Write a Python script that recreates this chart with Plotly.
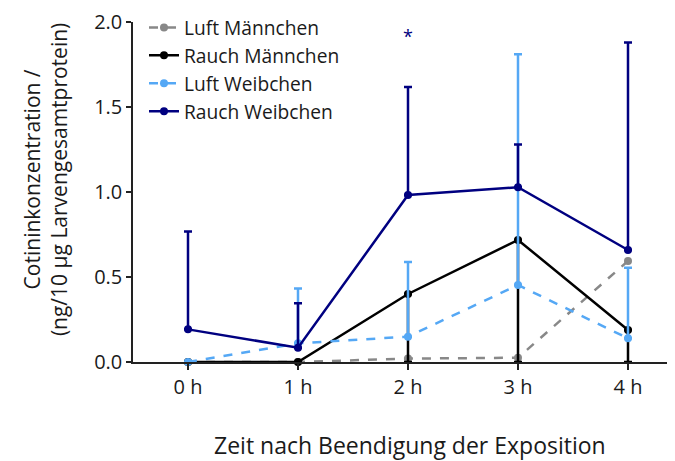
import plotly.graph_objects as go

# ── Data ──────────────────────────────────────────────────────
hours = [0, 1, 2, 3, 4]
hour_labels = ["0 h", "1 h", "2 h", "3 h", "4 h"]

luft_m = [0.0, 0.0, 0.02, 0.025, 0.594]

rauch_m = [0.0, 0.0, 0.40, 0.718, 0.188]
rauch_m_sd = [0.0, 0.0, 0.40, 0.718, 0.188]      # only lower bars visible

luft_w = [0.0, 0.11, 0.149, 0.453, 0.139]
luft_w_sd = [0.0, 0.323, 0.439, 1.357, 0.416]

rauch_w = [0.192, 0.084, 0.982, 1.028, 0.659]
rauch_w_sd = [0.575, 0.261, 0.636, 0.252, 1.221]

FONT = "Open Sans, Noto Sans, sans-serif"
GREY = "#888888"
BLACK = "#000000"
LIGHT = "#55a8f5"
NAVY = "#000080"
TEXT = "#1a1a1a"

fig = go.Figure()


def add_series(name, y, color, dash="solid", up=None, down=None):
    err = None
    if up is not None or down is not None:
        err = dict(
            type="data", symmetric=False,
            array=up if up is not None else [0] * len(y),
            arrayminus=down if down is not None else [0] * len(y),
            color=color, thickness=2.5, width=4,
        )
    fig.add_trace(go.Scatter(
        x=hours, y=y, name=name, mode="lines+markers",
        line=dict(color=color, width=2.5, dash=dash),
        marker=dict(color=color, size=8),
        error_y=err, cliponaxis=False,
    ))


add_series("Luft Männchen", luft_m, GREY, dash="dash")
add_series("Rauch Männchen", rauch_m, BLACK, down=rauch_m_sd)
add_series("Luft Weibchen", luft_w, LIGHT, dash="dash", up=luft_w_sd)
add_series("Rauch Weibchen", rauch_w, NAVY, up=rauch_w_sd)

# significance marker
fig.add_annotation(x=2, y=1.92, text="*", showarrow=False,
                   font=dict(color=NAVY, size=18, family=FONT))

# axis titles as annotations for exact placement
fig.add_annotation(
    xref="paper", yref="paper", x=-0.16, y=0.535,
    xanchor="center", yanchor="middle", textangle=-90, showarrow=False,
    text="Cotininkonzentration /<br>(ng/10 µg Larvengesamtprotein)",
    font=dict(size=21, color=TEXT, family=FONT),
)
fig.add_annotation(
    xref="paper", yref="paper", x=0.504, y=-0.244,
    xanchor="center", yanchor="middle", showarrow=False,
    text="Zeit nach Beendigung der Exposition",
    font=dict(size=23, color=TEXT, family=FONT),
)

fig.update_xaxes(
    range=[-0.5, 4.5], tickvals=hours, ticktext=hour_labels,
    showline=True, linecolor="#222", linewidth=1.5,
    ticks="outside", ticklen=6, tickwidth=1.5, tickcolor="#222",
    showgrid=False, zeroline=False,
    tickfont=dict(size=20, color=TEXT),
)
fig.update_yaxes(
    range=[0, 2], tickvals=[0, 0.5, 1.0, 1.5, 2.0], tickformat=".1f",
    showline=True, linecolor="#222", linewidth=1.5,
    ticks="outside", ticklen=5, tickwidth=1.5, tickcolor="#222",
    showgrid=False, zeroline=False,
    tickfont=dict(size=20, color=TEXT),
)

fig.update_layout(
    width=675, height=461,
    paper_bgcolor="white", plot_bgcolor="white",
    font=dict(family=FONT, color=TEXT),
    margin=dict(l=125, r=0, t=14, b=107, autoexpand=False),
    showlegend=True,
    legend=dict(x=0.02, y=1.04, xanchor="left", yanchor="top",
                bgcolor="rgba(0,0,0,0)", font=dict(size=19.2),
                tracegroupgap=0, itemwidth=30),
)

fig.write_html("out.html")
